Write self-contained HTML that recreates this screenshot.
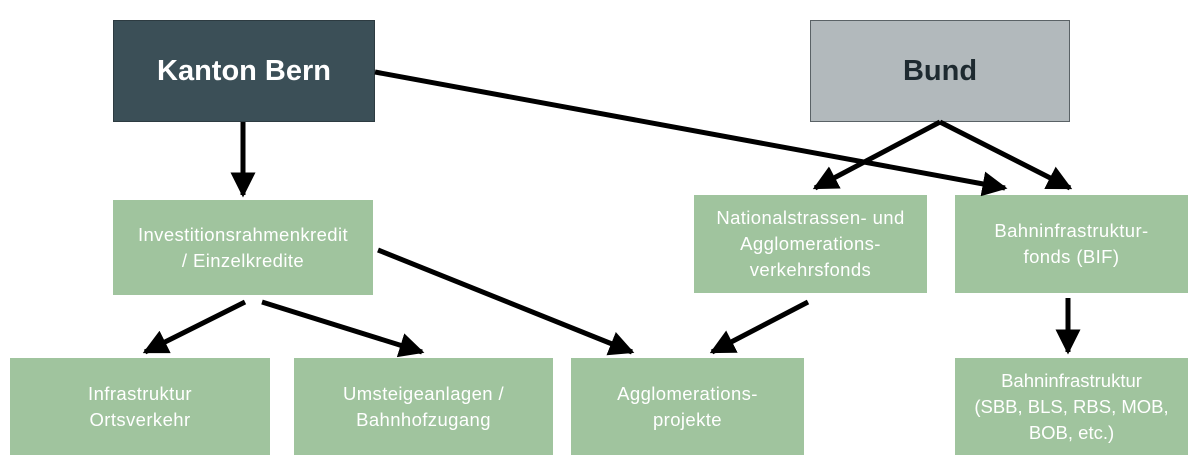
<!DOCTYPE html>
<html><head><meta charset="utf-8"><style>
html,body{margin:0;padding:0;background:#fff;}
body{width:1194px;height:472px;position:relative;overflow:hidden;font-family:"Liberation Sans",sans-serif;}
.b{position:absolute;display:flex;align-items:center;justify-content:center;text-align:center;box-sizing:border-box;}
.g{background:#a0c49e;color:#fff;font-size:18.5px;line-height:26px;letter-spacing:0.4px;}
.t{font-size:29px;font-weight:bold;}
svg{position:absolute;left:0;top:0;}
</style></head><body>
<div class="b t" style="left:113px;top:20px;width:262px;height:102px;background:#3b4f57;color:#fff;border:1px solid #2d3b41;">Kanton Bern</div>
<div class="b t" style="left:810px;top:20px;width:260px;height:102px;background:#b2b9bc;color:#1e2a30;border:1px solid #5a6266;">Bund</div>
<div class="b g" style="left:113px;top:200px;width:260px;height:95px;">Investitionsrahmenkredit<br>/ Einzelkredite</div>
<div class="b g" style="left:694px;top:195px;width:233px;height:98px;">Nationalstrassen- und<br>Agglomerations-<br>verkehrsfonds</div>
<div class="b g" style="left:955px;top:195px;width:233px;height:98px;">Bahninfrastruktur-<br>fonds (BIF)</div>
<div class="b g" style="left:10px;top:358px;width:260px;height:97px;">Infrastruktur<br>Ortsverkehr</div>
<div class="b g" style="left:294px;top:358px;width:259px;height:97px;">Umsteigeanlagen /<br>Bahnhofzugang</div>
<div class="b g" style="left:571px;top:358px;width:233px;height:97px;">Agglomerations-<br>projekte</div>
<div class="b g" style="left:955px;top:358px;width:233px;height:97px;letter-spacing:0;">Bahninfrastruktur<br>(SBB, BLS, RBS, MOB,<br>BOB, etc.)</div>
<svg width="1194" height="472" viewBox="0 0 1194 472">
<defs><marker id="a" viewBox="0 0 10 10" refX="9" refY="5" markerWidth="5" markerHeight="5" orient="auto" markerUnits="strokeWidth"><path d="M0,0L10,5L0,10z" fill="#000"/></marker></defs>
<g stroke="#000" stroke-width="5" fill="none" marker-end="url(#a)">
<line x1="243" y1="122" x2="243" y2="195"/>
<line x1="375" y1="72" x2="1005" y2="188"/>
<line x1="940" y1="122" x2="815" y2="188"/>
<line x1="940" y1="122" x2="1070" y2="188"/>
<line x1="245" y1="302" x2="145" y2="352"/>
<line x1="262" y1="302" x2="422" y2="352"/>
<line x1="378" y1="250" x2="632" y2="352"/>
<line x1="808" y1="302" x2="712" y2="352"/>
<line x1="1068" y1="298" x2="1068" y2="352"/>
</g>
</svg>
</body></html>
